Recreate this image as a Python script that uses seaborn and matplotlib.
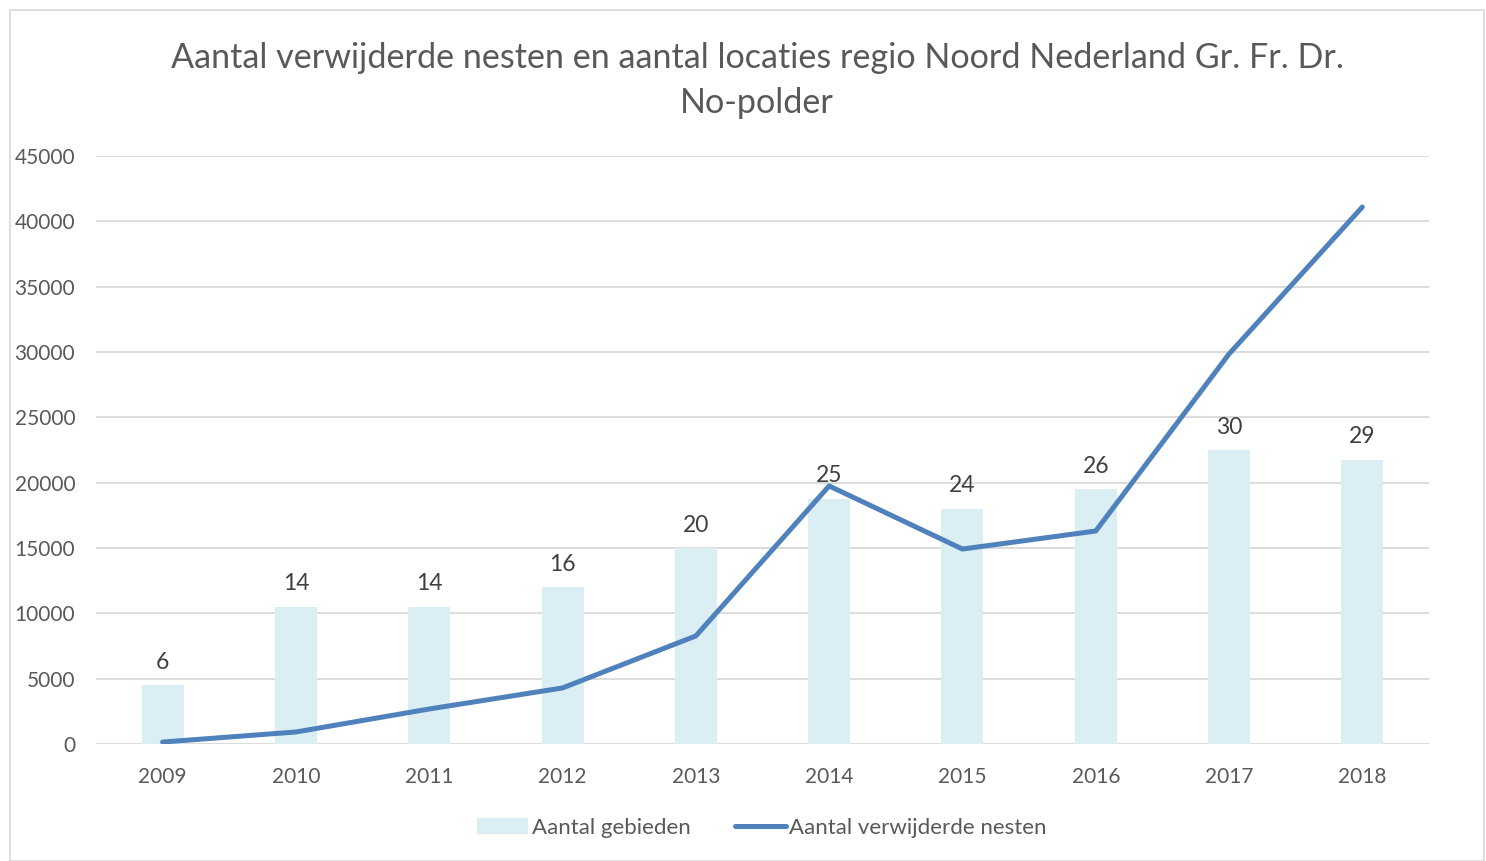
import matplotlib
matplotlib.use("Agg")
import matplotlib.pyplot as plt
import seaborn as sns
import pandas as pd
import numpy as np
from matplotlib.patches import Patch, Rectangle
from matplotlib.lines import Line2D

years = ["2009", "2010", "2011", "2012", "2013", "2014", "2015", "2016", "2017", "2018"]
gebieden = [6, 14, 14, 16, 20, 25, 24, 26, 30, 29]
nesten = [150, 920, 2680, 4290, 8270, 19750, 14920, 16300, 29850, 41100]
title = "Aantal verwijderde nesten en aantal locaties regio Noord Nederland Gr. Fr. Dr.\nNo-polder"

sns.set_theme(style="white")
plt.rcParams['font.family'] = ['Lato', 'DejaVu Sans']
txt = "#595959"

df = pd.DataFrame({"jaar": years, "gebieden": gebieden, "nesten": nesten})

fig = plt.figure(figsize=(14.86, 8.61), dpi=100)
fig.patches.append(Rectangle((10/1486, 0), 1474/1486, 851/861, transform=fig.transFigure,
                             fill=False, edgecolor="#D9D9D9", linewidth=1.2))
ax = fig.add_axes([96/1486, 1-744/861, (1429-96)/1486, (744-156)/861])

sns.barplot(data=df, x="jaar", y="gebieden", ax=ax, color="#DAEEF3", width=0.315,
            saturation=1, edgecolor="none", zorder=2)
ax.set_ylim(0, 60)
ax.set_xlim(-0.5, 9.5)
ax.set_yticks(np.linspace(0, 60, 10))
ax.yaxis.grid(True, color="#D9D9D9", linewidth=1.3, zorder=0)
ax.set_axisbelow(True)
ax.tick_params(axis="y", left=False, labelleft=False, length=0)
ax.tick_params(axis="x", bottom=False, length=0, labelsize=15, labelcolor=txt, pad=16.5)
for s in ax.spines.values():
    s.set_visible(False)
ax.set_xlabel("")
ax.set_ylabel("")
ax.bar_label(ax.containers[0], labels=[str(v) for v in gebieden], padding=9,
             fontsize=16.5, color="#404040")

ax2 = ax.twinx()
sns.lineplot(data=df, x="jaar", y="nesten", ax=ax2, color="#4F81BD", linewidth=3.6,
             solid_capstyle="round", sort=False)
ax2.set_ylim(0, 45000)
ax2.set_yticks(range(0, 45001, 5000))
ax2.yaxis.tick_left()
ax2.yaxis.set_tick_params(length=0, width=0)
ax2.tick_params(axis="y", labelsize=15, labelcolor=txt, pad=15)
for s in ax2.spines.values():
    s.set_visible(False)
ax2.set_ylabel("")
ax2.set_xlabel("")

fig.text(757/1486, 1-80.5/861, title, ha="center", va="center", fontsize=24.6, color=txt,
         linespacing=1.52)

handles = [Patch(facecolor="#DAEEF3", edgecolor="none"),
           Line2D([0], [0], color="#4F81BD", linewidth=3.6, solid_capstyle="round")]
fig.legend(handles, ["Aantal gebieden", "Aantal verwijderde nesten"], loc="center",
           bbox_to_anchor=(762/1486, 1-828/861), ncol=2, frameon=False, fontsize=16,
           labelcolor=txt, handlelength=2.3, handletextpad=0.15, columnspacing=2.0)

fig.savefig("out.png", dpi=100)
